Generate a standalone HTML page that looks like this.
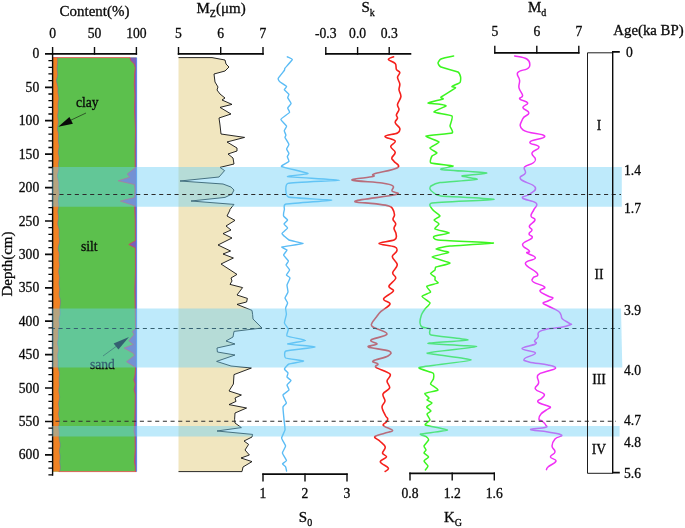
<!DOCTYPE html>
<html lang="en"><head><meta charset="utf-8"><title>Grain size parameters</title>
<style>html,body{margin:0;padding:0;background:#fff}svg{display:block}text{font-family:"Liberation Serif", "Times New Roman", serif;fill:#0a0a0a;stroke:#0a0a0a;stroke-width:0.3px}</style></head><body>
<svg width="685" height="528" viewBox="0 0 685 528">
<rect width="685" height="528" fill="#fff"/>
<rect x="52.6" y="57.6" width="83.8" height="414.0" fill="#5cc04d"/>
<polygon points="52.6,57.6 57.5,57.6 57.6,59.7 57.7,61.9 57.5,64.0 57.3,66.0 57.1,68.0 57.2,70.0 57.5,72.0 57.7,74.0 57.5,76.0 57.0,78.0 56.5,80.0 56.7,82.0 57.2,84.0 57.7,86.0 58.0,88.0 58.0,90.0 57.9,92.0 58.2,94.0 58.6,96.0 58.9,98.0 58.7,100.0 58.3,102.0 58.1,104.0 58.0,106.2 58.2,108.4 58.3,110.6 58.1,112.8 57.7,115.0 57.8,117.2 58.1,119.4 58.4,121.6 58.2,123.8 57.8,126.0 57.5,128.0 57.6,130.0 58.1,132.0 58.5,134.0 58.5,136.0 58.4,138.0 58.3,140.0 58.5,142.1 58.9,144.3 59.1,146.4 58.8,148.6 58.4,150.7 58.3,152.9 58.7,155.0 59.1,157.0 59.2,159.0 58.9,161.0 58.6,163.0 58.5,165.0 58.7,167.0 58.8,169.0 58.5,171.0 58.0,173.0 57.5,175.0 57.6,177.1 58.1,179.3 58.7,181.4 58.9,183.6 58.8,185.7 58.8,187.9 59.0,190.0 59.3,192.0 59.3,194.0 59.0,196.0 58.6,198.0 58.4,200.0 58.4,202.0 58.7,204.0 58.8,206.0 58.5,208.0 58.0,210.0 57.9,212.1 58.2,214.3 58.5,216.4 58.5,218.6 58.1,220.7 57.8,222.9 57.9,225.0 58.5,227.1 59.1,229.3 59.2,231.4 59.1,233.6 59.0,235.7 59.3,237.9 59.6,240.0 59.5,242.0 59.0,244.0 58.5,246.0 58.2,248.0 58.3,250.0 59.0,252.1 59.3,254.3 59.2,256.4 59.0,258.6 59.0,260.7 59.4,262.9 59.6,265.0 59.4,267.1 58.9,269.3 58.7,271.4 58.9,273.6 59.3,275.7 59.6,277.9 59.3,280.0 59.1,282.0 59.0,284.0 59.3,286.0 59.6,288.0 59.7,290.0 59.4,292.0 59.2,294.0 59.3,296.0 59.8,298.0 60.4,300.0 60.5,302.1 60.3,304.3 59.9,306.4 59.8,308.6 60.0,310.7 60.2,312.9 60.0,315.0 59.4,317.1 59.1,319.3 59.2,321.4 59.5,323.6 59.6,325.7 59.1,327.9 58.5,330.0 58.3,332.1 58.4,334.3 58.5,336.4 58.3,338.6 57.9,340.7 57.6,342.9 57.8,345.0 58.3,347.1 58.6,349.3 58.4,351.4 57.9,353.6 57.7,355.7 57.9,357.9 58.1,360.0 58.2,362.0 58.1,364.0 58.0,366.0 58.3,368.0 58.8,370.0 59.4,372.0 59.6,374.0 59.4,376.0 59.1,378.0 59.1,380.0 59.2,382.0 59.4,384.0 59.3,386.0 59.0,388.0 58.8,390.0 58.9,392.0 59.3,394.0 59.6,396.0 59.6,398.0 59.2,400.0 58.8,402.0 58.6,404.0 58.8,406.0 59.1,408.0 59.1,410.0 58.8,412.0 58.6,414.0 58.8,416.0 59.2,418.0 59.6,420.0 59.6,422.0 59.2,424.0 58.8,426.0 58.8,428.0 59.0,430.0 59.3,432.0 59.3,434.0 59.1,436.0 59.0,438.0 59.3,440.0 59.8,442.1 60.2,444.3 60.1,446.4 59.7,448.6 59.4,450.7 59.6,452.9 60.0,455.0 60.1,457.0 60.0,459.0 59.7,461.0 59.8,463.0 60.1,465.0 60.4,467.2 60.2,469.4 59.6,471.6 52.6,471.6" fill="#f08224"/>
<polygon points="136.4,57.6 130.1,57.6 130.5,60.2 134.2,63.9 135.3,67.7 134.6,73.8 134.3,84.4 134.9,95.0 134.5,110.0 135.4,130.0 135.0,150.0 135.2,167.8 127.2,174.0 129.8,177.2 118.1,180.8 134.5,184.5 135.0,190.0 134.6,197.5 120.4,201.1 134.6,205.8 135.2,220.0 135.3,240.8 128.8,244.5 135.3,247.8 135.4,270.0 134.8,290.0 135.2,310.0 135.5,328.9 132.4,331.5 134.0,334.6 128.8,340.8 133.4,344.5 124.1,348.1 133.4,353.3 134.5,355.4 126.5,361.7 135.5,367.4 135.0,375.0 133.8,380.0 135.2,384.0 134.0,390.0 135.2,394.0 135.0,410.0 134.6,425.0 134.0,431.0 135.0,436.0 135.2,450.0 134.4,462.0 135.2,466.0 135.4,471.6 136.4,471.6" fill="#7a60b8"/>
<polyline points="130.1,57.6 130.5,60.2 134.2,63.9 135.3,67.7 134.6,73.8 134.3,84.4 134.9,95.0 134.5,110.0 135.4,130.0 135.0,150.0 135.2,167.8 127.2,174.0 129.8,177.2 118.1,180.8 134.5,184.5 135.0,190.0 134.6,197.5 120.4,201.1 134.6,205.8 135.2,220.0 135.3,240.8 128.8,244.5 135.3,247.8 135.4,270.0 134.8,290.0 135.2,310.0 135.5,328.9 132.4,331.5 134.0,334.6 128.8,340.8 133.4,344.5 124.1,348.1 133.4,353.3 134.5,355.4 126.5,361.7 135.5,367.4 135.0,375.0 133.8,380.0 135.2,384.0 134.0,390.0 135.2,394.0 135.0,410.0 134.6,425.0 134.0,431.0 135.0,436.0 135.2,450.0 134.4,462.0 135.2,466.0 135.4,471.6" fill="none" stroke="#dc4058" stroke-width="0.8"/>
<polyline points="57.5,57.6 57.6,59.7 57.7,61.9 57.5,64.0 57.3,66.0 57.1,68.0 57.2,70.0 57.5,72.0 57.7,74.0 57.5,76.0 57.0,78.0 56.5,80.0 56.7,82.0 57.2,84.0 57.7,86.0 58.0,88.0 58.0,90.0 57.9,92.0 58.2,94.0 58.6,96.0 58.9,98.0 58.7,100.0 58.3,102.0 58.1,104.0 58.0,106.2 58.2,108.4 58.3,110.6 58.1,112.8 57.7,115.0 57.8,117.2 58.1,119.4 58.4,121.6 58.2,123.8 57.8,126.0 57.5,128.0 57.6,130.0 58.1,132.0 58.5,134.0 58.5,136.0 58.4,138.0 58.3,140.0 58.5,142.1 58.9,144.3 59.1,146.4 58.8,148.6 58.4,150.7 58.3,152.9 58.7,155.0 59.1,157.0 59.2,159.0 58.9,161.0 58.6,163.0 58.5,165.0 58.7,167.0 58.8,169.0 58.5,171.0 58.0,173.0 57.5,175.0 57.6,177.1 58.1,179.3 58.7,181.4 58.9,183.6 58.8,185.7 58.8,187.9 59.0,190.0 59.3,192.0 59.3,194.0 59.0,196.0 58.6,198.0 58.4,200.0 58.4,202.0 58.7,204.0 58.8,206.0 58.5,208.0 58.0,210.0 57.9,212.1 58.2,214.3 58.5,216.4 58.5,218.6 58.1,220.7 57.8,222.9 57.9,225.0 58.5,227.1 59.1,229.3 59.2,231.4 59.1,233.6 59.0,235.7 59.3,237.9 59.6,240.0 59.5,242.0 59.0,244.0 58.5,246.0 58.2,248.0 58.3,250.0 59.0,252.1 59.3,254.3 59.2,256.4 59.0,258.6 59.0,260.7 59.4,262.9 59.6,265.0 59.4,267.1 58.9,269.3 58.7,271.4 58.9,273.6 59.3,275.7 59.6,277.9 59.3,280.0 59.1,282.0 59.0,284.0 59.3,286.0 59.6,288.0 59.7,290.0 59.4,292.0 59.2,294.0 59.3,296.0 59.8,298.0 60.4,300.0 60.5,302.1 60.3,304.3 59.9,306.4 59.8,308.6 60.0,310.7 60.2,312.9 60.0,315.0 59.4,317.1 59.1,319.3 59.2,321.4 59.5,323.6 59.6,325.7 59.1,327.9 58.5,330.0 58.3,332.1 58.4,334.3 58.5,336.4 58.3,338.6 57.9,340.7 57.6,342.9 57.8,345.0 58.3,347.1 58.6,349.3 58.4,351.4 57.9,353.6 57.7,355.7 57.9,357.9 58.1,360.0 58.2,362.0 58.1,364.0 58.0,366.0 58.3,368.0 58.8,370.0 59.4,372.0 59.6,374.0 59.4,376.0 59.1,378.0 59.1,380.0 59.2,382.0 59.4,384.0 59.3,386.0 59.0,388.0 58.8,390.0 58.9,392.0 59.3,394.0 59.6,396.0 59.6,398.0 59.2,400.0 58.8,402.0 58.6,404.0 58.8,406.0 59.1,408.0 59.1,410.0 58.8,412.0 58.6,414.0 58.8,416.0 59.2,418.0 59.6,420.0 59.6,422.0 59.2,424.0 58.8,426.0 58.8,428.0 59.0,430.0 59.3,432.0 59.3,434.0 59.1,436.0 59.0,438.0 59.3,440.0 59.8,442.1 60.2,444.3 60.1,446.4 59.7,448.6 59.4,450.7 59.6,452.9 60.0,455.0 60.1,457.0 60.0,459.0 59.7,461.0 59.8,463.0 60.1,465.0 60.4,467.2 60.2,469.4 59.6,471.6" fill="none" stroke="#5a70b8" stroke-width="0.5"/>
<path d="M52.6,57.6 H130.0 M58.6,471.6 H136.4" fill="none" stroke="#e84848" stroke-width="0.8"/>
<path d="M136.6,57.6 V471.6" fill="none" stroke="#5a84f0" stroke-width="1"/>
<polygon points="178.5,57.6 212.0,57.6 225.0,60.0 226.0,64.0 229.0,67.0 225.0,71.0 214.0,74.0 215.0,82.0 218.0,87.0 217.0,90.0 220.0,94.0 225.0,98.0 222.0,100.0 232.0,104.4 220.0,107.4 231.0,114.0 219.0,118.0 220.0,125.0 221.0,134.0 244.6,137.4 227.0,142.0 237.0,148.0 237.0,151.0 228.0,154.0 233.0,158.0 234.0,164.0 220.0,167.4 224.6,170.6 219.0,177.0 180.0,181.0 223.0,184.0 231.0,187.0 234.0,190.0 232.0,194.0 225.0,197.4 191.0,201.0 234.0,204.4 230.0,209.4 230.0,210.0 227.0,216.0 235.0,220.4 226.0,226.0 231.0,230.0 223.0,233.6 232.0,238.0 218.0,245.0 230.6,251.0 223.0,254.0 233.4,258.0 221.0,264.0 237.0,274.4 231.0,278.0 232.0,281.0 230.0,284.4 242.6,287.6 237.0,295.0 247.4,298.4 246.6,302.0 237.0,304.4 252.0,310.4 252.6,314.4 253.0,319.0 262.0,328.0 234.0,331.4 233.0,337.0 226.0,341.0 235.0,344.0 217.0,348.0 217.4,352.0 235.0,355.0 216.6,361.4 231.0,366.0 251.4,368.0 234.0,374.6 233.4,384.0 229.0,391.0 241.4,395.0 235.0,398.0 236.0,401.4 229.0,404.6 246.6,408.0 235.0,413.0 234.6,419.4 235.0,423.0 241.4,427.6 217.0,431.0 252.6,434.4 252.0,437.0 244.0,441.0 248.6,444.4 245.0,450.0 249.4,455.0 241.0,458.0 252.0,461.6 243.0,467.0 242.0,471.6 178.5,471.6" fill="#f1e6bf"/>
<polyline points="178.5,57.6 212.0,57.6 225.0,60.0 226.0,64.0 229.0,67.0 225.0,71.0 214.0,74.0 215.0,82.0 218.0,87.0 217.0,90.0 220.0,94.0 225.0,98.0 222.0,100.0 232.0,104.4 220.0,107.4 231.0,114.0 219.0,118.0 220.0,125.0 221.0,134.0 244.6,137.4 227.0,142.0 237.0,148.0 237.0,151.0 228.0,154.0 233.0,158.0 234.0,164.0 220.0,167.4 224.6,170.6 219.0,177.0 180.0,181.0 223.0,184.0 231.0,187.0 234.0,190.0 232.0,194.0 225.0,197.4 191.0,201.0 234.0,204.4 230.0,209.4 230.0,210.0 227.0,216.0 235.0,220.4 226.0,226.0 231.0,230.0 223.0,233.6 232.0,238.0 218.0,245.0 230.6,251.0 223.0,254.0 233.4,258.0 221.0,264.0 237.0,274.4 231.0,278.0 232.0,281.0 230.0,284.4 242.6,287.6 237.0,295.0 247.4,298.4 246.6,302.0 237.0,304.4 252.0,310.4 252.6,314.4 253.0,319.0 262.0,328.0 234.0,331.4 233.0,337.0 226.0,341.0 235.0,344.0 217.0,348.0 217.4,352.0 235.0,355.0 216.6,361.4 231.0,366.0 251.4,368.0 234.0,374.6 233.4,384.0 229.0,391.0 241.4,395.0 235.0,398.0 236.0,401.4 229.0,404.6 246.6,408.0 235.0,413.0 234.6,419.4 235.0,423.0 241.4,427.6 217.0,431.0 252.6,434.4 252.0,437.0 244.0,441.0 248.6,444.4 245.0,450.0 249.4,455.0 241.0,458.0 252.0,461.6 243.0,467.0 242.0,471.6 178.5,471.6" fill="none" stroke="#111" stroke-width="0.9" stroke-linejoin="round"/>
<path d="M287.3,56.8 C287.6,57.0 292.5,58.7 292.3,59.5 C292.1,60.3 285.5,67.5 285.0,68.2 C284.5,68.9 284.8,69.8 284.3,70.5 C283.8,71.2 278.5,77.6 278.2,78.4 C277.9,79.2 279.2,81.3 279.8,81.8 C280.4,82.3 286.3,85.9 286.6,86.4 C286.9,86.9 284.1,89.3 284.3,89.8 C284.5,90.3 288.7,93.8 288.9,94.3 C289.1,94.8 287.6,97.1 287.7,97.7 C287.8,98.3 291.1,102.7 291.1,103.4 C291.1,104.1 287.8,107.4 287.7,108.0 C287.6,108.6 290.0,111.7 289.5,112.5 C289.0,113.3 281.1,118.4 280.9,119.3 C280.7,120.2 286.4,125.3 286.6,126.1 C286.8,126.9 284.3,130.1 284.3,130.7 C284.3,131.3 285.9,134.7 285.9,135.2 C285.9,135.7 284.8,136.9 285.0,137.5 C285.2,138.1 288.8,143.5 288.9,144.3 C289.0,145.1 286.6,148.3 286.6,148.9 C286.6,149.5 288.9,152.9 288.9,153.4 C288.9,153.9 287.3,156.3 287.3,156.8 C287.3,157.3 289.3,160.7 288.9,161.4 C288.5,162.1 280.3,165.8 281.6,166.6 C282.9,167.4 307.6,172.7 308.0,173.4 C308.4,174.1 285.5,176.1 287.6,176.6 C289.7,177.1 339.6,179.7 339.6,180.2 C339.6,180.7 291.4,182.3 288.0,183.4 C284.6,184.5 285.5,195.9 288.4,197.0 C291.3,198.1 331.8,199.7 331.6,200.2 C331.4,200.7 289.1,203.4 286.0,204.0 C282.9,204.6 284.6,208.6 284.4,209.4 C284.2,210.2 283.4,215.3 283.6,216.0 C283.8,216.7 287.6,219.5 287.6,220.0 C287.6,220.5 284.0,223.5 284.0,224.0 C284.0,224.5 287.7,227.4 287.6,228.0 C287.5,228.6 281.9,232.8 282.0,233.6 C282.1,234.4 287.6,239.3 289.0,240.0 C290.4,240.7 303.5,243.1 303.0,243.6 C302.5,244.1 283.1,246.6 282.0,247.0 C280.9,247.4 286.9,249.5 287.0,250.0 C287.1,250.5 283.5,254.3 283.6,255.0 C283.7,255.7 288.2,260.3 288.4,261.0 C288.6,261.7 285.9,264.4 286.0,265.0 C286.1,265.6 289.6,269.3 289.6,270.0 C289.6,270.7 286.4,274.5 286.4,275.0 C286.4,275.5 290.0,277.3 290.0,278.0 C290.0,278.7 287.1,284.1 287.0,285.0 C286.9,285.9 288.1,291.1 288.0,292.0 C287.9,292.9 285.0,297.3 285.0,298.0 C285.0,298.7 287.6,302.3 287.6,303.0 C287.6,303.7 285.7,307.2 285.6,308.0 C285.5,308.8 286.5,313.4 286.4,314.4 C286.3,315.4 284.3,322.0 284.4,323.0 C284.5,324.0 288.2,328.1 288.4,329.0 C288.6,329.9 285.9,335.2 287.0,336.0 C288.1,336.8 305.6,339.9 305.6,340.4 C305.6,340.9 287.0,343.6 287.6,344.0 C288.2,344.4 315.1,346.5 315.0,347.0 C314.9,347.5 288.0,350.3 286.0,351.0 C284.0,351.7 284.4,357.3 285.6,358.0 C286.8,358.7 303.4,360.6 303.6,361.0 C303.8,361.4 290.3,363.5 289.0,364.0 C287.7,364.5 284.5,368.4 284.4,369.0 C284.3,369.6 287.8,372.5 288.0,373.0 C288.2,373.5 286.8,376.5 287.0,377.0 C287.2,377.5 291.0,380.1 291.0,380.6 C291.0,381.1 287.1,384.4 287.0,385.0 C286.9,385.6 289.3,389.3 289.0,390.0 C288.7,390.7 283.2,394.1 283.0,395.0 C282.8,395.9 286.4,402.2 286.4,403.0 C286.4,403.8 283.2,405.9 283.0,407.0 C282.8,408.1 283.9,417.9 284.0,419.4 C284.1,420.9 285.2,428.8 285.0,430.0 C284.8,431.2 281.6,436.9 281.6,438.0 C281.6,439.1 285.5,445.0 285.6,446.0 C285.7,447.0 282.3,452.0 282.4,453.0 C282.5,454.0 286.5,459.8 286.5,460.5 C286.5,461.2 282.6,463.4 282.5,463.8 C282.4,464.2 285.3,466.3 285.6,466.8 C285.9,467.3 286.5,470.7 286.6,471.0" fill="none" stroke="#5bbcf5" stroke-width="1.4" stroke-linejoin="round" stroke-linecap="round"/>
<path d="M393.6,56.8 C392.6,57.3 388.1,58.3 388.4,59.5 C388.7,60.7 393.7,61.8 395.2,63.6 C396.7,65.4 395.6,67.6 396.4,69.3 C397.2,71.0 399.6,71.2 399.8,72.7 C400.0,74.2 397.5,75.2 397.5,77.3 C397.5,79.4 399.5,81.7 399.8,84.0 C400.1,86.3 398.8,87.5 399.0,89.8 C399.2,92.1 401.2,93.9 400.9,96.6 C400.6,99.3 397.8,102.1 397.5,104.5 C397.2,106.9 399.2,107.6 399.0,109.5 C398.8,111.4 396.7,113.2 396.4,114.8 C396.1,116.4 397.7,116.8 397.5,118.2 C397.3,119.6 394.8,120.8 395.2,122.7 C395.6,124.6 399.4,126.5 399.8,128.4 C400.2,130.3 400.2,131.5 397.5,133.0 C394.8,134.5 385.4,134.9 385.0,136.4 C384.6,137.9 394.2,139.1 395.2,141.0 C396.2,142.9 390.7,144.5 390.7,146.6 C390.7,148.7 395.0,150.2 395.2,152.3 C395.4,154.4 392.0,156.3 391.8,158.0 C391.6,159.7 393.0,159.6 394.0,161.4 C395.0,163.2 401.2,165.4 397.5,167.7 C393.8,170.0 378.5,172.4 374.0,174.0 C369.5,175.6 377.0,175.5 373.0,176.6 C369.0,177.7 350.4,178.8 352.0,180.0 C353.6,181.2 374.5,181.9 382.0,183.0 C389.5,184.1 391.2,184.5 393.0,186.0 C394.8,187.5 391.4,189.4 392.0,191.0 C392.6,192.6 402.7,192.8 396.0,194.6 C389.3,196.4 359.5,199.3 355.5,201.0 C351.5,202.7 367.9,202.7 374.0,203.6 C380.1,204.5 385.5,204.9 388.9,205.9 C392.3,206.9 391.7,207.4 392.7,209.0 C393.7,210.6 394.4,212.9 394.5,214.8 C394.6,216.7 392.8,217.6 393.0,219.3 C393.2,221.0 395.5,222.2 395.7,223.9 C395.9,225.6 393.9,226.5 394.0,228.4 C394.1,230.3 396.0,231.9 396.1,234.0 C396.2,236.1 397.6,238.1 394.5,239.8 C391.4,241.5 379.0,242.1 379.0,243.4 C379.0,244.7 391.2,245.4 394.5,246.8 C397.8,248.2 397.2,249.2 396.8,251.0 C396.4,252.8 392.2,254.3 392.3,256.8 C392.4,259.3 397.2,261.9 397.3,264.8 C397.4,267.7 393.0,270.2 392.7,272.7 C392.4,275.2 396.4,275.9 395.7,278.4 C395.0,280.9 389.3,284.1 388.9,286.4 C388.5,288.7 394.4,288.7 393.4,291.0 C392.4,293.3 384.2,296.5 383.6,298.9 C383.0,301.3 390.5,301.7 390.0,304.0 C389.5,306.3 383.5,309.0 381.0,311.4 C378.5,313.8 378.0,314.9 376.4,317.0 C374.8,319.1 372.6,321.2 372.0,323.0 C371.4,324.8 370.2,325.0 373.0,327.0 C375.8,329.0 387.4,331.6 387.0,334.0 C386.6,336.4 372.8,338.2 371.0,340.0 C369.2,341.8 377.5,342.7 377.0,344.0 C376.5,345.3 366.2,345.7 368.4,347.0 C370.6,348.3 385.4,349.4 389.0,351.0 C392.6,352.6 390.9,354.2 388.0,356.0 C385.1,357.8 374.8,359.5 373.0,361.0 C371.2,362.5 377.4,362.8 378.0,364.0 C378.6,365.2 373.8,365.6 376.0,367.4 C378.2,369.2 388.0,371.5 390.0,374.0 C392.0,376.5 387.1,378.4 387.0,381.0 C386.9,383.6 390.3,385.6 389.6,388.0 C388.9,390.4 383.8,391.6 383.0,394.0 C382.2,396.4 385.2,398.6 385.0,401.0 C384.8,403.4 381.9,404.3 382.0,407.0 C382.1,409.7 384.4,413.4 385.4,415.5 C386.4,417.6 387.5,417.5 387.7,418.7 C387.9,419.9 387.3,420.5 386.5,421.8 C385.7,423.1 382.3,424.0 383.4,425.6 C384.5,427.2 392.4,429.0 392.6,430.4 C392.8,431.8 387.9,432.1 384.6,433.2 C381.3,434.3 375.7,435.2 374.8,436.6 C373.9,438.0 377.8,439.1 379.7,441.0 C381.6,442.9 384.7,444.8 385.2,447.0 C385.7,449.2 382.3,451.4 382.5,453.2 C382.7,455.0 386.9,455.3 386.5,456.9 C386.1,458.5 380.0,459.8 380.3,461.8 C380.6,463.8 387.4,466.2 388.3,468.0 C389.2,469.8 385.8,470.8 385.2,471.4" fill="none" stroke="#f5201c" stroke-width="1.6" stroke-linejoin="round" stroke-linecap="round"/>
<path d="M453.6,56.0 C452.6,56.2 442.3,58.4 441.0,59.0 C439.7,59.6 438.0,62.3 438.0,63.0 C438.0,63.7 439.3,66.2 441.0,67.0 C442.7,67.8 456.4,71.2 458.0,72.0 C459.6,72.8 460.4,76.1 460.6,77.0 C460.8,77.9 460.7,81.6 460.0,82.4 C459.3,83.2 452.4,85.9 452.0,86.4 C451.6,86.9 456.3,87.1 455.4,88.0 C454.5,88.9 442.0,96.1 441.0,97.0 C440.0,97.9 444.1,98.5 443.0,99.0 C441.9,99.5 428.2,102.5 428.0,103.0 C427.8,103.5 439.5,104.2 441.0,104.4 C442.5,104.7 446.6,105.4 446.0,106.0 C445.4,106.6 433.5,111.2 434.0,112.0 C434.5,112.8 450.7,114.8 452.0,116.0 C453.3,117.2 450.0,124.6 450.0,126.0 C450.0,127.4 454.0,132.2 452.0,133.0 C450.0,133.8 427.1,135.2 426.0,136.0 C424.9,136.8 438.7,141.0 439.0,142.0 C439.3,143.0 430.2,147.1 430.0,148.0 C429.8,148.9 436.8,152.3 437.0,153.0 C437.2,153.7 432.5,155.2 432.0,156.0 C431.5,156.8 429.2,162.2 431.0,163.0 C432.8,163.8 452.2,165.5 453.0,166.0 C453.8,166.5 438.2,168.8 441.0,169.4 C443.8,170.0 484.9,172.4 486.6,173.0 C488.4,173.6 462.8,175.5 462.0,176.0 C461.2,176.5 478.8,178.8 477.0,179.4 C475.2,180.0 443.8,182.0 440.0,182.6 C436.2,183.2 431.8,185.5 431.0,186.0 C430.2,186.5 429.8,188.4 430.0,189.0 C430.2,189.6 433.1,192.4 434.0,193.0 C434.9,193.6 436.0,195.5 441.0,196.0 C446.0,196.5 494.8,198.8 494.0,199.4 C493.2,200.0 437.1,202.1 432.0,203.0 C426.9,203.9 432.3,208.9 433.0,210.0 C433.7,211.1 439.9,215.2 440.0,216.0 C440.1,216.8 434.1,219.3 434.0,220.0 C433.9,220.7 438.9,223.2 439.0,224.0 C439.1,224.8 434.1,228.2 435.0,229.0 C435.9,229.8 449.5,232.4 449.4,233.0 C449.3,233.6 434.9,235.8 434.0,236.4 C433.1,237.0 433.1,239.4 438.0,240.0 C442.9,240.6 492.4,242.5 493.4,243.0 C494.4,243.5 454.8,245.5 450.0,246.0 C445.2,246.5 436.1,248.5 436.0,249.0 C435.9,249.5 448.9,251.7 448.6,252.4 C448.3,253.1 431.9,256.1 432.0,257.0 C432.1,257.9 449.7,262.2 450.0,263.0 C450.3,263.8 437.2,266.4 436.0,267.0 C434.8,267.6 435.4,269.4 435.0,270.0 C434.6,270.6 430.6,273.0 430.6,273.6 C430.6,274.2 434.6,276.5 435.0,277.0 C435.4,277.5 434.8,279.5 435.0,280.0 C435.2,280.5 438.7,282.5 438.0,283.0 C437.3,283.5 427.2,285.6 426.6,286.4 C426.0,287.1 431.0,291.2 430.6,292.0 C430.2,292.8 422.1,295.5 422.0,296.4 C421.9,297.3 429.8,301.9 430.0,303.0 C430.2,304.1 425.7,308.0 425.0,309.0 C424.3,310.0 421.8,313.8 421.4,315.0 C421.0,316.2 419.9,322.0 420.0,323.0 C420.1,324.0 421.2,326.5 422.0,327.0 C422.8,327.5 429.2,328.3 430.0,329.0 C430.8,329.7 427.8,334.1 431.0,335.0 C434.2,335.9 468.2,339.3 468.0,340.0 C467.8,340.7 427.3,342.8 428.0,343.4 C428.7,343.9 476.7,345.8 476.6,346.6 C476.5,347.4 427.5,351.9 427.0,353.0 C426.5,354.1 471.6,358.8 471.0,360.0 C470.4,361.2 422.6,366.3 419.4,367.4 C416.2,368.5 431.8,372.0 433.0,373.0 C434.2,374.0 433.6,378.1 433.4,379.0 C433.2,379.9 430.2,383.1 430.6,384.0 C431.0,384.9 438.5,389.2 438.0,390.0 C437.5,390.8 425.8,392.7 425.0,393.4 C424.2,394.1 428.8,397.4 429.0,398.0 C429.2,398.6 426.8,399.6 427.0,400.0 C427.2,400.4 432.0,402.4 432.0,403.0 C432.0,403.6 426.7,406.3 426.6,407.0 C426.5,407.7 431.0,410.4 431.0,411.0 C431.0,411.6 427.1,413.2 427.0,414.0 C426.9,414.8 430.1,419.1 430.0,420.0 C429.9,420.9 423.9,424.1 425.4,425.0 C426.8,425.9 447.8,429.4 447.4,430.2 C447.0,430.9 422.4,433.5 420.6,434.0 C418.8,434.5 425.5,436.1 426.2,436.6 C426.9,437.1 428.8,439.2 428.6,440.0 C428.4,440.8 424.2,445.2 424.0,446.0 C423.8,446.8 426.0,449.4 426.0,450.0 C426.0,450.6 423.8,452.4 424.0,453.0 C424.2,453.6 428.6,456.3 428.6,457.0 C428.6,457.7 424.1,460.2 424.0,461.0 C423.9,461.8 427.9,465.2 428.0,466.0 C428.1,466.8 425.6,469.7 425.4,470.0" fill="none" stroke="#3cf520" stroke-width="1.5" stroke-linejoin="round" stroke-linecap="round"/>
<path d="M514.7,56.0 C517.5,56.7 523.3,56.9 526.8,59.0 C530.3,61.1 529.8,62.9 529.8,65.2 C529.8,67.5 529.8,67.0 527.0,68.8 C524.2,70.5 519.4,70.0 517.7,72.7 C516.0,75.4 519.3,76.8 519.6,80.3 C519.9,83.8 518.3,84.4 519.0,87.9 C519.7,91.4 522.4,92.9 522.6,95.5 C522.8,98.1 518.6,97.2 519.8,99.0 C521.0,100.8 527.0,101.0 527.7,103.0 C528.4,105.0 522.6,105.3 522.9,107.6 C523.2,109.9 529.0,110.3 528.9,113.0 C528.8,115.7 524.0,115.1 522.6,119.0 C521.2,122.9 517.8,125.8 522.9,129.8 C528.0,133.8 542.9,133.2 544.6,136.0 C546.3,138.8 531.3,139.4 530.0,142.0 C528.7,144.6 538.5,144.4 539.0,147.0 C539.5,149.6 532.8,150.2 532.0,153.0 C531.2,155.8 535.2,156.7 535.4,159.0 C535.6,161.3 535.5,161.1 533.0,163.0 C530.5,164.9 526.4,164.7 524.6,167.0 C522.8,169.3 526.3,170.2 525.4,173.0 C524.5,175.8 518.4,175.7 520.6,179.0 C522.8,182.3 532.8,183.5 535.0,187.0 C537.2,190.5 532.9,191.4 530.0,194.0 C527.1,196.6 521.2,195.9 522.6,198.0 C524.0,200.1 533.3,200.3 536.0,203.0 C538.7,205.7 535.2,206.4 534.0,209.4 C532.8,212.4 530.8,213.5 531.0,216.0 C531.2,218.5 535.4,217.7 535.0,220.0 C534.6,222.3 530.1,223.7 529.4,226.0 C528.7,228.3 532.1,228.1 532.0,230.0 C531.9,231.9 529.0,232.1 529.0,234.0 C529.0,235.9 533.5,235.6 532.0,238.0 C530.5,240.4 523.2,241.4 522.6,244.4 C522.0,247.4 528.4,249.0 529.4,251.0 C530.4,253.0 525.6,251.4 527.0,253.0 C528.4,254.6 535.8,255.5 535.4,258.0 C535.0,260.5 524.9,260.0 525.4,263.6 C525.9,267.2 535.6,270.2 537.4,273.6 C539.2,277.0 533.9,276.0 533.0,278.0 C532.1,280.0 530.7,279.9 533.4,282.0 C536.1,284.1 543.1,284.9 544.6,287.0 C546.1,289.1 539.2,288.9 540.0,291.0 C540.8,293.1 545.0,294.4 548.0,296.0 C551.0,297.6 553.0,296.8 553.0,298.0 C553.0,299.2 550.3,299.8 548.0,301.0 C545.7,302.2 543.0,301.8 543.0,303.0 C543.0,304.2 544.5,304.1 548.0,306.0 C551.5,307.9 555.0,308.9 558.0,311.0 C561.0,313.1 560.0,313.1 561.0,315.0 C562.0,316.9 560.5,317.0 562.5,319.0 C564.5,321.0 567.7,322.0 569.5,323.4 C571.3,324.8 572.5,323.8 570.3,324.8 C568.1,325.8 565.2,326.7 560.0,327.6 C554.8,328.5 552.9,327.8 548.0,328.8 C543.1,329.8 541.3,330.1 539.0,332.0 C536.7,333.9 539.0,334.9 538.0,337.0 C537.0,339.1 535.2,339.4 534.6,341.0 C534.0,342.6 538.3,342.2 535.4,344.0 C532.5,345.8 522.0,346.5 522.0,348.6 C522.0,350.7 534.8,350.7 535.4,353.0 C536.0,355.3 526.1,356.5 524.6,358.6 C523.1,360.7 523.5,360.5 529.0,362.0 C534.5,363.5 541.8,363.6 548.0,365.0 C554.2,366.4 555.6,366.6 555.6,368.0 C555.6,369.4 552.1,369.4 548.0,371.0 C543.9,372.6 540.2,372.2 538.0,375.0 C535.8,377.8 539.2,379.7 538.6,383.0 C538.0,386.3 534.1,386.4 535.4,389.0 C536.7,391.6 542.5,391.9 544.0,394.0 C545.5,396.1 543.4,396.1 542.0,398.0 C540.6,399.9 536.6,400.1 538.0,402.0 C539.4,403.9 545.1,404.7 548.0,406.0 C550.9,407.3 550.4,406.7 550.4,407.4 C550.4,408.1 550.2,407.5 548.0,409.0 C545.8,410.5 543.1,411.6 541.0,414.0 C538.9,416.4 538.8,417.8 539.0,419.4 C539.2,421.0 540.4,419.7 542.0,421.0 C543.6,422.3 545.0,423.5 545.7,425.0 C546.4,426.5 548.5,426.4 545.0,427.5 C541.5,428.6 529.9,428.6 530.6,429.6 C531.3,430.7 540.8,430.7 548.0,432.0 C555.2,433.3 560.0,433.4 561.6,435.0 C563.2,436.6 557.2,436.4 555.0,439.0 C552.8,441.6 552.0,443.0 552.0,446.0 C552.0,449.0 555.4,449.4 555.0,452.0 C554.6,454.6 550.2,454.9 550.4,457.0 C550.6,459.1 556.6,458.7 556.0,461.0 C555.4,463.3 550.2,465.0 548.0,467.0 C545.8,469.0 546.9,469.0 546.5,469.6" fill="none" stroke="#f030f5" stroke-width="1.5" stroke-linejoin="round" stroke-linecap="round"/>
<text x="76" y="107" font-size="13.6">clay</text>
<text x="81" y="251.4" font-size="13.6">silt</text>
<text x="90" y="369" font-size="13.6">sand</text>
<line x1="86" y1="113" x2="68" y2="121.5" stroke="#111" stroke-width="0.6"/>
<polygon points="58.3,126.7 69.4,117.1 72.9,123.7" fill="#0a0a0a"/>
<line x1="103" y1="356" x2="116.5" y2="346.2" stroke="#111" stroke-width="0.6"/>
<polygon points="129,337 118.4,349.5 113.6,343.6" fill="#0a0a0a"/>
<path d="M52.6,53.1 V475.7" stroke="#0a0a0a" stroke-width="1.4" fill="none"/>
<line x1="52.6" y1="328.5" x2="620" y2="328.5" stroke="#0c0c0c" stroke-width="1" stroke-dasharray="4.1,3.57" stroke-dashoffset="1.8"/>
<polygon points="52,167.1 621.8,167.1 621.8,206.7 52,206.7" fill="#6ccff6" fill-opacity="0.44"/>
<polygon points="52,308.6 621,308.6 622.3,367.5 52,367.5" fill="#6ccff6" fill-opacity="0.44"/>
<polygon points="52,426 619.6,426 619.6,436.6 52,436.6" fill="#6ccff6" fill-opacity="0.44"/>
<line x1="52.6" y1="194.5" x2="621.0" y2="194.5" stroke="#2c2c2c" stroke-width="1.10" stroke-dasharray="4.1,3.57" stroke-dashoffset="0.8"/>
<line x1="52.6" y1="421.2" x2="616.0" y2="421.2" stroke="#2c2c2c" stroke-width="1.10" stroke-dasharray="4.1,3.57" stroke-dashoffset="4.8"/>
<path d="M52.6,53.9 h-7.6 M52.6,87.3 h-7.6 M52.6,120.7 h-7.6 M52.6,154.1 h-7.6 M52.6,187.6 h-7.6 M52.6,221.0 h-7.6 M52.6,254.4 h-7.6 M52.6,287.8 h-7.6 M52.6,321.2 h-7.6 M52.6,354.6 h-7.6 M52.6,388.0 h-7.6 M52.6,421.5 h-7.6 M52.6,454.9 h-7.6" stroke="#0a0a0a" stroke-width="1.7" fill="none"/>
<path d="M52.6,60.6 h-4.2 M52.6,67.3 h-4.2 M52.6,73.9 h-4.2 M52.6,80.6 h-4.2 M52.6,94.0 h-4.2 M52.6,100.7 h-4.2 M52.6,107.4 h-4.2 M52.6,114.0 h-4.2 M52.6,127.4 h-4.2 M52.6,134.1 h-4.2 M52.6,140.8 h-4.2 M52.6,147.5 h-4.2 M52.6,160.8 h-4.2 M52.6,167.5 h-4.2 M52.6,174.2 h-4.2 M52.6,180.9 h-4.2 M52.6,194.2 h-4.2 M52.6,200.9 h-4.2 M52.6,207.6 h-4.2 M52.6,214.3 h-4.2 M52.6,227.7 h-4.2 M52.6,234.3 h-4.2 M52.6,241.0 h-4.2 M52.6,247.7 h-4.2 M52.6,261.1 h-4.2 M52.6,267.8 h-4.2 M52.6,274.4 h-4.2 M52.6,281.1 h-4.2 M52.6,294.5 h-4.2 M52.6,301.2 h-4.2 M52.6,307.9 h-4.2 M52.6,314.5 h-4.2 M52.6,327.9 h-4.2 M52.6,334.6 h-4.2 M52.6,341.3 h-4.2 M52.6,348.0 h-4.2 M52.6,361.3 h-4.2 M52.6,368.0 h-4.2 M52.6,374.7 h-4.2 M52.6,381.4 h-4.2 M52.6,394.7 h-4.2 M52.6,401.4 h-4.2 M52.6,408.1 h-4.2 M52.6,414.8 h-4.2 M52.6,428.1 h-4.2 M52.6,434.8 h-4.2 M52.6,441.5 h-4.2 M52.6,448.2 h-4.2 M52.6,461.6 h-4.2 M52.6,468.2 h-4.2 M52.6,474.9 h-4.2" stroke="#0a0a0a" stroke-width="1.3" fill="none"/>
<text x="39.2" y="58.4" font-size="13.6" text-anchor="end">0</text>
<text x="39.2" y="91.8" font-size="13.6" text-anchor="end">50</text>
<text x="39.2" y="125.2" font-size="13.6" text-anchor="end">100</text>
<text x="39.2" y="158.6" font-size="13.6" text-anchor="end">150</text>
<text x="39.2" y="192.1" font-size="13.6" text-anchor="end">200</text>
<text x="39.2" y="225.5" font-size="13.6" text-anchor="end">250</text>
<text x="39.2" y="258.9" font-size="13.6" text-anchor="end">300</text>
<text x="39.2" y="292.3" font-size="13.6" text-anchor="end">350</text>
<text x="39.2" y="325.7" font-size="13.6" text-anchor="end">400</text>
<text x="39.2" y="359.1" font-size="13.6" text-anchor="end">450</text>
<text x="39.2" y="392.5" font-size="13.6" text-anchor="end">500</text>
<text x="39.2" y="426.0" font-size="13.6" text-anchor="end">550</text>
<text x="39.2" y="459.4" font-size="13.6" text-anchor="end">600</text>
<text transform="translate(11.5,264) rotate(-90)" font-size="15" text-anchor="middle">Depth(cm)</text>
<path d="M51.9,53.9 H137.1" stroke="#0a0a0a" stroke-width="1.7" fill="none"/>
<path d="M52.6,54.7 v-7.8 M94.5,54.7 v-7.8 M136.4,54.7 v-7.8" stroke="#0a0a0a" stroke-width="1.4" fill="none"/>
<text x="52.6" y="38.0" font-size="13.6" text-anchor="middle">0</text>
<text x="94.5" y="38.0" font-size="13.6" text-anchor="middle">50</text>
<text x="136.4" y="38.0" font-size="13.6" text-anchor="middle">100</text>
<path d="M177.8,53.9 H263.7" stroke="#0a0a0a" stroke-width="1.7" fill="none"/>
<path d="M178.5,54.7 v-7.8 M220.7,54.7 v-7.8 M263.0,54.7 v-7.8" stroke="#0a0a0a" stroke-width="1.4" fill="none"/>
<text x="178.5" y="38.0" font-size="13.6" text-anchor="middle">5</text>
<text x="220.7" y="38.0" font-size="13.6" text-anchor="middle">6</text>
<text x="263.0" y="38.0" font-size="13.6" text-anchor="middle">7</text>
<path d="M325.1,53.9 H411.3" stroke="#0a0a0a" stroke-width="1.7" fill="none"/>
<path d="M325.8,54.7 v-7.8 M357.6,54.7 v-7.8 M389.2,54.7 v-7.8" stroke="#0a0a0a" stroke-width="1.4" fill="none"/>
<text x="325.8" y="38.0" font-size="13.6" text-anchor="middle">-0.3</text>
<text x="357.6" y="38.0" font-size="13.6" text-anchor="middle">0.0</text>
<text x="389.2" y="38.0" font-size="13.6" text-anchor="middle">0.3</text>
<path d="M494.1,52.8 H579.5" stroke="#0a0a0a" stroke-width="1.7" fill="none"/>
<path d="M494.8,53.6 v-7.8 M536.8,53.6 v-7.8 M578.8,53.6 v-7.8" stroke="#0a0a0a" stroke-width="1.4" fill="none"/>
<text x="494.8" y="36.3" font-size="13.6" text-anchor="middle">5</text>
<text x="536.8" y="36.3" font-size="13.6" text-anchor="middle">6</text>
<text x="578.8" y="36.3" font-size="13.6" text-anchor="middle">7</text>
<path d="M262.3,474.2 H347.7" stroke="#0a0a0a" stroke-width="1.7" fill="none"/>
<path d="M263.0,473.4 v8 M305.0,473.4 v8 M347.0,473.4 v8" stroke="#0a0a0a" stroke-width="1.4" fill="none"/>
<text x="263.0" y="497.7" font-size="13.6" text-anchor="middle">1</text>
<text x="305.0" y="497.7" font-size="13.6" text-anchor="middle">2</text>
<text x="347.0" y="497.7" font-size="13.6" text-anchor="middle">3</text>
<path d="M409.3,473.4 H495.0" stroke="#0a0a0a" stroke-width="1.7" fill="none"/>
<path d="M410.0,472.6 v8 M452.2,472.6 v8 M494.3,472.6 v8" stroke="#0a0a0a" stroke-width="1.4" fill="none"/>
<text x="410.0" y="497.7" font-size="13.6" text-anchor="middle">0.8</text>
<text x="452.2" y="497.7" font-size="13.6" text-anchor="middle">1.2</text>
<text x="494.3" y="497.7" font-size="13.6" text-anchor="middle">1.6</text>
<text x="94.5" y="16" font-size="15" text-anchor="middle">Content(%)</text>
<text x="196.5" y="12.5" font-size="15">M<tspan font-size="10" dy="4">Z</tspan><tspan dy="-4">(μm)</tspan></text>
<text x="361.5" y="12" font-size="15">S<tspan font-size="10" dy="4">k</tspan></text>
<text x="528" y="11.5" font-size="15">M<tspan font-size="10" dy="4">d</tspan></text>
<text x="298.8" y="522" font-size="15">S<tspan font-size="10" dy="4">0</tspan></text>
<text x="444" y="522" font-size="15">K<tspan font-size="10" dy="4">G</tspan></text>
<text x="613.3" y="34.8" font-size="14.8">Age(ka BP)</text>
<path d="M612.7,52.8 H587.5 V473.3 H612.7" stroke="#111" stroke-width="0.95" fill="none"/>
<path d="M612.7,51 V473.3" stroke="#0a0a0a" stroke-width="1.4" fill="none"/>
<path d="M612.1,51.8 H619.8 M612.1,472.6 H619.8" stroke="#0a0a0a" stroke-width="1.7" fill="none"/>
<text x="626.0" y="56.6" font-size="13.6">0</text>
<text x="624.0" y="174.5" font-size="13.6">1.4</text>
<text x="624.0" y="212.5" font-size="13.6">1.7</text>
<text x="624.0" y="315.0" font-size="13.6">3.9</text>
<text x="624.0" y="375.0" font-size="13.6">4.0</text>
<text x="624.0" y="424.5" font-size="13.6">4.7</text>
<text x="624.0" y="446.5" font-size="13.6">4.8</text>
<text x="624.0" y="477.5" font-size="13.6">5.6</text>
<text x="599" y="129.5" font-size="13.6" text-anchor="middle">I</text>
<text x="599" y="279.0" font-size="13.6" text-anchor="middle">II</text>
<text x="599" y="383.5" font-size="13.6" text-anchor="middle">III</text>
<text x="599" y="453.5" font-size="13.6" text-anchor="middle">IV</text>
</svg></body></html>
